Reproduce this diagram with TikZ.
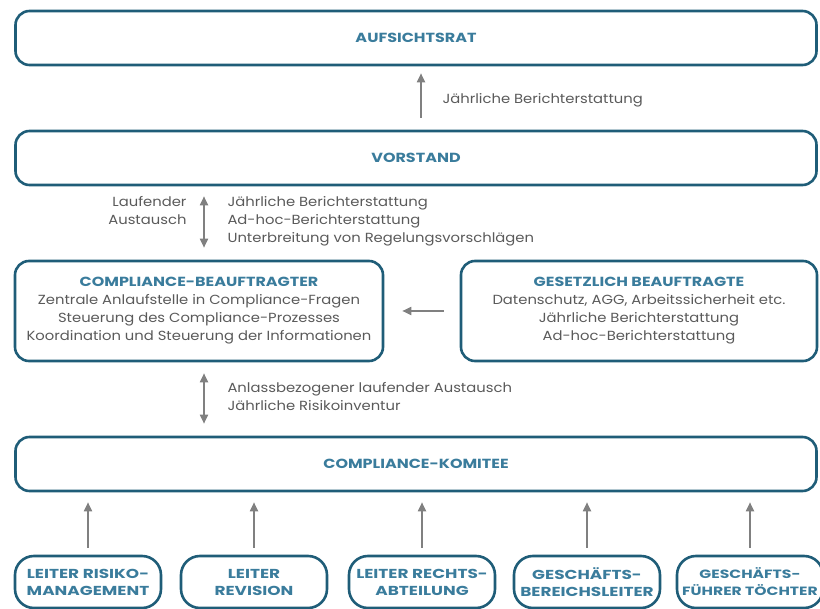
\documentclass[tikz,border=0pt]{standalone}
\usepackage{fontspec}
\setmainfont[FakeStretch=1.12]{Poppins}
\newfontfamily\titelschrift[FakeStretch=1.21]{Poppins}
\newfontfamily\kastenschrift[FakeStretch=1.3]{Poppins}
\usepackage{tikz}
\usetikzlibrary{arrows.meta, positioning, calc}

\definecolor{rahmen}{HTML}{1F5D78}
\definecolor{titel}{HTML}{3A7C9C}
\definecolor{pfeil}{HTML}{808080}
\definecolor{schrift}{HTML}{5A5A5A}

\newcommand{\titel}[1]{\textcolor{titel}{\titelschrift\bfseries #1}}

\begin{document}
\begin{tikzpicture}[x=1pt, y=-1pt,
    box/.style={rectangle, draw=rahmen, line width=2.6pt, rounded corners=14pt, text centered, align=center,
      font=\fontsize{13.2}{18}\selectfont, text=schrift},
    wide/.style={box, minimum width=801pt, minimum height=54pt},
    small/.style={box, rounded corners=19pt, minimum width=146pt, minimum height=52pt,
      font=\kastenschrift\fontsize{13}{17}\selectfont\bfseries, text=titel},
    lbl/.style={font=\fontsize{13.2}{18}\selectfont, text=schrift},
    arr/.style={-{Triangle[length=9pt, width=8pt]}, line width=1.8pt, draw=pfeil},
    darr/.style={{Triangle[length=9pt, width=8pt]}-{Triangle[length=9pt, width=8pt]}, line width=1.8pt, draw=pfeil}]

\useasboundingbox (0,0) rectangle (820,609);
\clip (0,0) rectangle (820,609);

% Leitungsebene
\node[wide] (aufsicht) at (416,38) {\titel{AUFSICHTSRAT}};
\node[wide] (vorstand) at (416,158) {\titel{VORSTAND}};

\node[box, minimum width=368pt, minimum height=100pt] (beauftr) at (199,311)
  {\titel{COMPLIANCE-BEAUFTRAGTER}\\
   Zentrale Anlaufstelle in Compliance-Fragen\\
   Steuerung des Compliance-Prozesses\\
   Koordination und Steuerung der Informationen};
\node[box, minimum width=356pt, minimum height=100pt] (gesetz) at (639,311)
  {\titel{GESETZLICH BEAUFTRAGTE}\\
   Datenschutz, AGG, Arbeitssicherheit etc.\\
   Jährliche Berichterstattung\\
   Ad-hoc-Berichterstattung};

\node[wide] (komitee) at (416,464) {\titel{COMPLIANCE-KOMITEE}};

% Mitglieder des Komitees
\node[small] (risiko) at (88,582) {LEITER RISIKO-\\MANAGEMENT};
\node[small] (revision) at (254,582) {LEITER\\REVISION};
\node[small] (recht) at (422,582) {LEITER RECHTS-\\ABTEILUNG};
\node[small] (bereich) at (587,582) {GESCHÄFTS-\\BEREICHSLEITER};
\node[small, font=\kastenschrift\fontsize{12}{17}\selectfont\bfseries] (toechter) at (750,582) {GESCHÄFTS-\\FÜHRER TÖCHTER};

% Beschriftungen
\node[lbl, anchor=west] (lblauf) at (439,100) {Jährliche Berichterstattung};
\node[lbl, anchor=north east, align=right] (lbllinks) at (190,193) {Laufender\\Austausch};
\node[lbl, anchor=north west, align=left] (lblvor) at (224,193)
  {Jährliche Berichterstattung\\Ad-hoc-Berichterstattung\\Unterbreitung von Regelungsvorschlägen};
\node[lbl, anchor=north west, align=left] (lblkom) at (224,379)
  {Anlassbezogener laufender Austausch\\Jährliche Risikoinventur};

% Pfeile
\draw[arr, shorten <=12pt, shorten >=7pt] ([xshift=5pt]vorstand.north) -- ([xshift=5pt]vorstand.north |- aufsicht.south);
\draw[darr, shorten <=10pt, shorten >=12pt] ([xshift=5pt]beauftr.north |- vorstand.south) -- ([xshift=5pt]beauftr.north);
\draw[arr, shorten <=16pt, shorten >=18pt] (gesetz) -- (beauftr);
\draw[darr, shorten <=11pt, shorten >=12pt] ([xshift=5pt]beauftr.south) -- ([xshift=5pt]beauftr.south |- komitee.north);
\foreach \m in {risiko, revision, recht, bereich, toechter}
  \draw[arr, shorten <=7pt, shorten >=10pt] (\m.north) -- (\m.north |- komitee.south);

\end{tikzpicture}
\end{document}
